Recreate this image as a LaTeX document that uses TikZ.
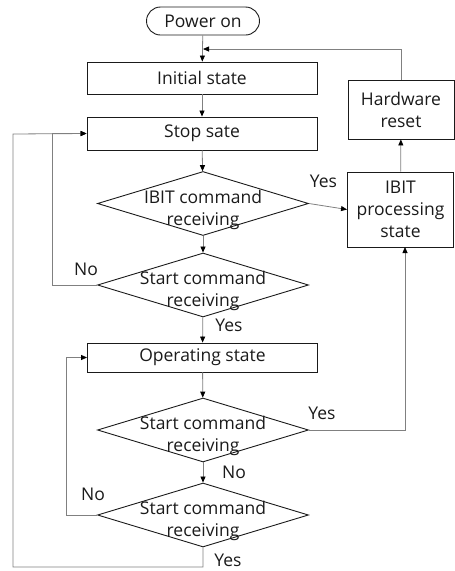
\documentclass[tikz,border=0pt]{standalone}
\usepackage{fontspec}
\setmainfont{Open Sans}
\usetikzlibrary{calc, positioning, shapes.geometric, arrows.meta}
\definecolor{ink}{HTML}{1A1A1A}
\definecolor{wire}{HTML}{808080}

\begin{document}
\begin{tikzpicture}[
    x=1pt, y=-1pt,
    every node/.style={font=\fontsize{17.5}{22}\selectfont, text=ink},
    term/.style={draw=ink, line width=0.9pt, rectangle, rounded corners=14pt, minimum width=113pt, minimum height=28pt, inner sep=0pt},
    state/.style={draw=ink, line width=0.9pt, rectangle, minimum width=230pt, inner sep=0pt, align=center},
    side/.style={draw=ink, line width=0.9pt, rectangle, minimum width=106pt, inner sep=0pt, align=center},
    decision/.style={draw=ink, line width=0.9pt, diamond, minimum width=211pt, minimum height=64pt, inner sep=0pt},
    line/.style={wire, line width=0.8pt},
    flow/.style={line, -{Triangle[length=6pt, width=5pt, color=black]}},
    tag/.style={inner sep=0pt}
  ]
    \useasboundingbox (0,0) rectangle (455,571);

    \node[term] (power) at (203, 21) {Power on};
    \node[state, minimum height=32pt] (init) at (202, 78) {Initial state};
    \node[state, minimum height=33pt] (stop) at (202, 133.5) {Stop sate};
    \node[decision, label={[align=center, yshift=-6pt]center:IBIT command\\receiving}] (ibitq) at (203, 203.5) {};
    \node[decision, label={[align=center, yshift=-6pt]center:Start command\\receiving}] (startq) at (203, 285) {};
    \node[state, minimum height=29pt] (oper) at (202.5, 357.5) {Operating state};
    \node[decision, label={[align=center, yshift=-6pt]center:Start command\\receiving}] (runq) at (203, 430) {};
    \node[decision, label={[align=center, yshift=-6pt]center:Start command\\receiving}] (stopq) at (203, 515) {};

    \node[side, minimum height=75pt] (ibit) at (400.5, 209.5) {IBIT\\processing\\state};
    \node[side, minimum height=59pt] (reset) at (401, 109.5) {Hardware\\reset};

    % turning points of the return loops
    \coordinate (join) at (203, 49);
    \coordinate (back) at (405, 247);

    % main line
    \draw[flow] (power) -- (init);
    \draw[flow] (init) -- (stop);
    \draw[flow] (stop) -- (ibitq);
    \draw[flow] (ibitq) -- (startq);
    \draw[flow] (startq) -- (oper);
    \draw[flow] (oper) -- (runq);
    \draw[flow] (runq) -- (stopq);

    % IBIT branch
    \draw[flow] (ibitq.east) -- (ibit.west);
    \draw[flow] (ibit) -- (reset);
    \draw[flow] (reset.north) |- (join);
    \draw[flow] (runq.east) -| (back);

    % loops on the left
    \draw[flow] (startq.west) -| (52, 285) |- (stop.west);
    \draw[flow] (stopq.west) -| (66, 515) |- (oper.west);
    \draw[flow] (stopq.south) -- (203, 567) -| (13, 134) -- (stop.west);

    \node[tag] (yes1) at (323.5, 181) {Yes};
    \node[tag] (no1) at (86, 269) {No};
    \node[tag] (yes2) at (229, 325) {Yes};
    \node[tag] (yes3) at (322, 413) {Yes};
    \node[tag] (no2) at (234, 472) {No};
    \node[tag] (no3) at (93, 494) {No};
    \node[tag] (yes4) at (228, 560) {Yes};
  \end{tikzpicture}
\end{document}
